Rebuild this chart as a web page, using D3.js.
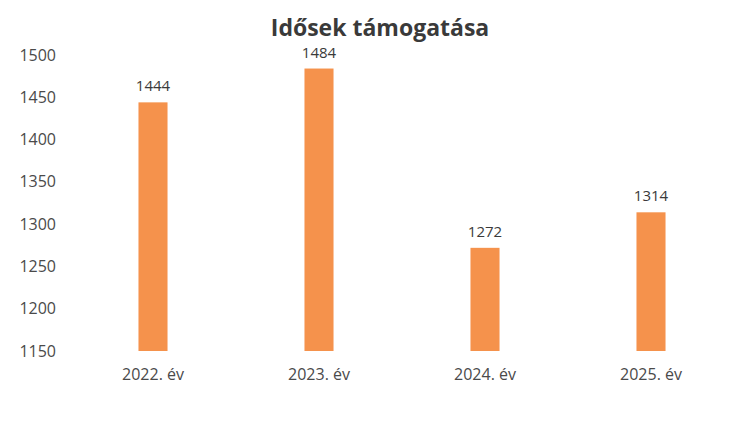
<!DOCTYPE html>
<html>
<head>
<meta charset="utf-8">
<script src="https://cdn.jsdelivr.net/npm/d3@7"></script>
<style>
  body { margin: 0; background: #fff; }
  svg text { font-family: "Open Sans", "Noto Sans", sans-serif; }
</style>
</head>
<body>
<div id="chart-area"></div>
<script>
// chart data
var years = ["2022. év", "2023. év", "2024. év", "2025. év"];
var values = [1444, 1484, 1272, 1314];
var yTicks = [1150, 1200, 1250, 1300, 1350, 1400, 1450, 1500];
var title = "Idősek támogatása";

var width = 736, height = 432;
var margin = {left:70, right:2, top:55, bottom:81};

var svg = d3.select("#chart-area")
	.append("svg")
		.attr("width", width)
		.attr("height", height);

var x = d3.scaleBand()
	.domain(years)
	.range([margin.left, width - margin.right])
	.paddingInner(0.825)
	.paddingOuter(0.4125);

var y = d3.scaleLinear()
	.domain([1150, 1500])
	.range([height - margin.bottom, margin.top]);

// title
svg.append("text")
	.attr("x", 380)
	.attr("y", 36)
	.attr("text-anchor", "middle")
	.attr("font-size", "23px")
	.attr("font-weight", "bold")
	.attr("fill", "#3a3a3a")
	.text(title);

// y axis
var yAxis = svg.append("g")
	.attr("transform", "translate(" + 56 + ",0)")
	.call(d3.axisLeft(y).tickValues(yTicks).tickFormat(d3.format("d")).tickSize(0).tickPadding(0));
yAxis.select(".domain").remove();
yAxis.selectAll("text")
	.attr("font-size", "16px")
	.attr("fill", "#4a4a4a");

// x axis
var xAxis = svg.append("g")
	.attr("transform", "translate(0," + (height - margin.bottom) + ")")
	.call(d3.axisBottom(x).tickSize(0).tickPadding(18));
xAxis.select(".domain").remove();
xAxis.selectAll("text")
	.attr("font-size", "16px")
	.attr("fill", "#4a4a4a");

// bars
svg.selectAll("rect.bar")
	.data(values)
	.enter()
	.append("rect")
		.attr("class", "bar")
		.attr("x", function(d, i){ return x(years[i]); })
		.attr("y", function(d){ return y(d); })
		.attr("width", x.bandwidth())
		.attr("height", function(d){ return y(1150) - y(d); })
		.attr("fill", "#f5924c");

// value labels
svg.selectAll("text.val")
	.data(values)
	.enter()
	.append("text")
		.attr("class", "val")
		.attr("x", function(d, i){ return x(years[i]) + x.bandwidth() / 2; })
		.attr("y", function(d){ return y(d) - 11; })
		.attr("text-anchor", "middle")
		.attr("font-size", "15px")
		.attr("fill", "#3a3a3a")
		.text(function(d){ return d; });
</script>
</body>
</html>
